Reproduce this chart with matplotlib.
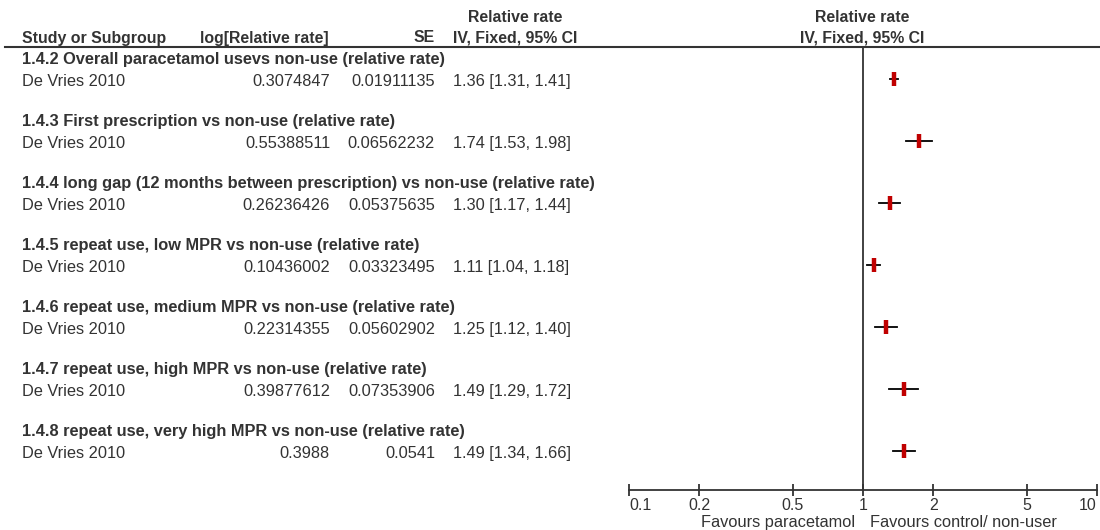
import matplotlib
matplotlib.use('Agg')
from matplotlib import pyplot as plt
from matplotlib.lines import Line2D
import matplotlib.transforms as mtransforms

# 数据
subgroups = ['1.4.2 Overall paracetamol usevs non-use (relative rate)',
             '1.4.3 First prescription vs non-use (relative rate)',
             '1.4.4 long gap (12 months between prescription) vs non-use (relative rate)',
             '1.4.5 repeat use, low MPR vs non-use (relative rate)',
             '1.4.6 repeat use, medium MPR vs non-use (relative rate)',
             '1.4.7 repeat use, high MPR vs non-use (relative rate)',
             '1.4.8 repeat use, very high MPR vs non-use (relative rate)']
study = 'De Vries 2010'
log_rr = ['0.3074847', '0.55388511', '0.26236426', '0.10436002', '0.22314355', '0.39877612', '0.3988']
se = ['0.01911135', '0.06562232', '0.05375635', '0.03323495', '0.05602902', '0.07353906', '0.0541']
rr = [1.36, 1.74, 1.30, 1.11, 1.25, 1.49, 1.49]
lo = [1.31, 1.53, 1.17, 1.04, 1.12, 1.29, 1.34]
hi = [1.41, 1.98, 1.44, 1.18, 1.40, 1.72, 1.66]
ticks = [0.1, 0.2, 0.5, 1, 2, 5, 10]
tick_labels = ['0.1', '0.2', '0.5', '1', '2', '5', '10']

plt.rcParams['font.family'] = ['Liberation Sans', 'DejaVu Sans']
fs = 11.8
fs_head = 11.4
dark = '#333333'
red = '#c00000'

fig = plt.figure(figsize=(11, 5.3), dpi=100)
ax = fig.add_axes([629 / 1100, 1 - 490 / 530, 468 / 1100, 443 / 530])
ax.set_xscale('log')
ax.set_xlim(0.1, 10)
ax.set_ylim(21.43, 0)

# 行位置
head_y = [3 * g + 0.6 for g in range(len(subgroups))]
study_y = [3 * g + 1.65 for g in range(len(subgroups))]

# 置信区间和点估计
for i in range(len(rr)):
    ax.plot([lo[i], hi[i]], [study_y[i] - 0.1, study_y[i] - 0.1], color='black', lw=1.3)
    ax.plot(rr[i], study_y[i] - 0.1, marker='|', ms=10, mew=3.2, color=red)

ax.axvline(1, color=dark, lw=1.3)

# 坐标轴样式
for s in ['top', 'left', 'right']:
    ax.spines[s].set_visible(False)
ax.spines['bottom'].set_color(dark)
ax.spines['bottom'].set_linewidth(1.3)
ax.set_yticks([])
ax.set_xticks(ticks)
ax.set_xticks([], minor=True)
ax.set_xticklabels(tick_labels, fontsize=11.5)
ax.tick_params(axis='x', direction='inout', length=9, width=1.3, color=dark, pad=1, labelcolor=dark)
labs = ax.get_xticklabels()
labs[0].set_ha('left')
labs[-1].set_ha('right')

bt = mtransforms.blended_transform_factory(ax.transData, ax.transAxes)
ax.text(0.925, -0.073, 'Favours paracetamol', transform=bt, ha='right', va='center', fontsize=fs, color=dark)
ax.text(1.075, -0.073, 'Favours control/ non-user', transform=bt, ha='left', va='center', fontsize=fs, color=dark)

# 表头
tr = mtransforms.blended_transform_factory(fig.transFigure, ax.transData)
hb = dict(fontsize=fs_head, fontweight='bold', color=dark, va='center')
fig.text(22 / 1100, 1 - 38 / 530, 'Study or Subgroup', ha='left', **hb)
fig.text(200 / 1100, 1 - 38 / 530, 'log[Relative rate]', ha='left', **hb)
fig.text(435 / 1100, 1 - 38 / 530, 'SE', ha='right', **hb)
fig.text(515 / 1100, 1 - 17 / 530, 'Relative rate', ha='center', **hb)
fig.text(515 / 1100, 1 - 38 / 530, 'IV, Fixed, 95% CI', ha='center', **hb)
fig.text(862 / 1100, 1 - 17 / 530, 'Relative rate', ha='center', **hb)
fig.text(862 / 1100, 1 - 38 / 530, 'IV, Fixed, 95% CI', ha='center', **hb)
fig.add_artist(Line2D([5 / 1100, 1], [1 - 47 / 530, 1 - 47 / 530], color=dark, lw=1.5, transform=fig.transFigure))

# 表格内容
for i in range(len(subgroups)):
    ax.text(22 / 1100, head_y[i], subgroups[i], transform=tr, ha='left', fontsize=fs, fontweight='bold',
            color=dark, va='center')
    ax.text(22 / 1100, study_y[i], study, transform=tr, ha='left', va='center', fontsize=fs, color=dark)
    ax.text(330 / 1100, study_y[i], log_rr[i], transform=tr, ha='right', va='center', fontsize=fs, color=dark)
    ax.text(435 / 1100, study_y[i], se[i], transform=tr, ha='right', va='center', fontsize=fs, color=dark)
    ax.text(453 / 1100, study_y[i], '%.2f [%.2f, %.2f]' % (rr[i], lo[i], hi[i]), transform=tr,
            ha='left', va='center', fontsize=fs, color=dark)

plt.savefig('out.png', dpi=100)
